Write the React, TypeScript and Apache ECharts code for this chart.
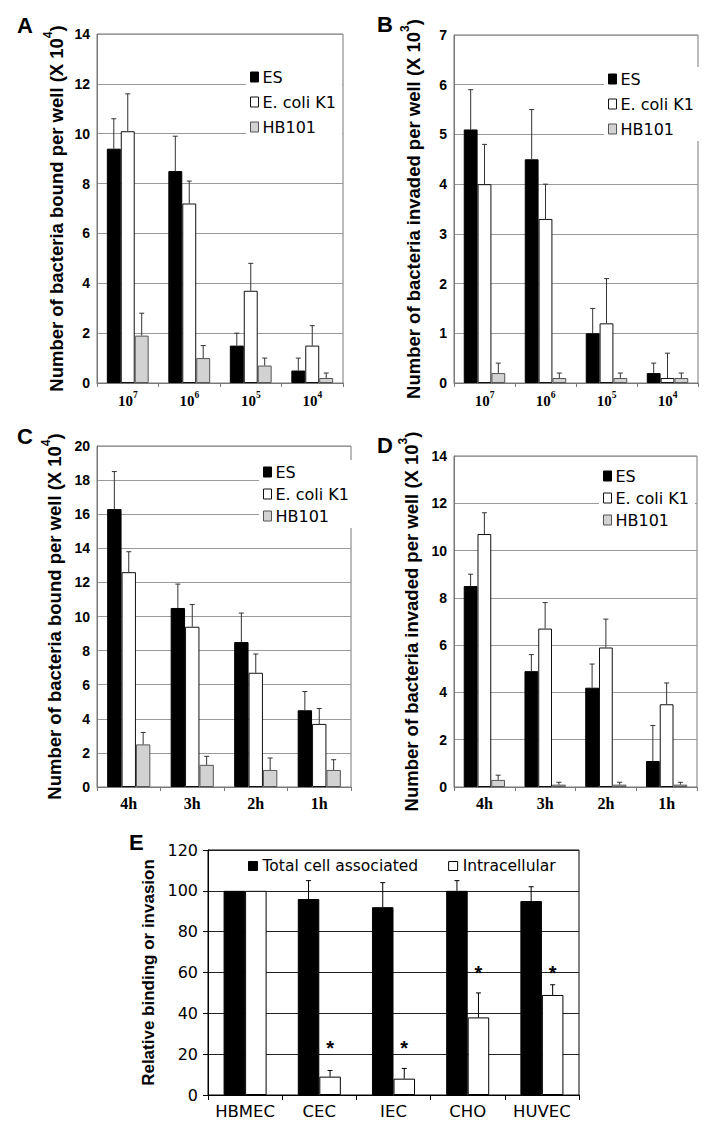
import React, { useEffect, useRef } from 'react';
import * as echarts from 'echarts';

// ---------- data ----------
const doseCategories = ['10^7', '10^6', '10^5', '10^4'];
const timeCategories = ['4h', '3h', '2h', '1h'];
const strainNames = ['ES', 'E. coli K1', 'HB101'];

// A: bound vs dose (x 10^4)
const boundDoseES = [9.4, 8.5, 1.5, 0.5];
const boundDoseESErr = [1.2, 1.4, 0.5, 0.5];
const boundDoseK1 = [10.1, 7.2, 3.7, 1.5];
const boundDoseK1Err = [1.5, 0.9, 1.1, 0.8];
const boundDoseHB = [1.9, 1.0, 0.7, 0.2];
const boundDoseHBErr = [0.9, 0.5, 0.3, 0.2];

// B: invaded vs dose (x 10^3)
const invadedDoseES = [5.1, 4.5, 1.0, 0.2];
const invadedDoseESErr = [0.8, 1.0, 0.5, 0.2];
const invadedDoseK1 = [4.0, 3.3, 1.2, 0.1];
const invadedDoseK1Err = [0.8, 0.7, 0.9, 0.5];
const invadedDoseHB = [0.2, 0.1, 0.1, 0.1];
const invadedDoseHBErr = [0.2, 0.1, 0.1, 0.1];

// C: bound vs time (x 10^4)
const boundTimeES = [16.3, 10.5, 8.5, 4.5];
const boundTimeESErr = [2.2, 1.4, 1.7, 1.1];
const boundTimeK1 = [12.6, 9.4, 6.7, 3.7];
const boundTimeK1Err = [1.2, 1.3, 1.1, 0.9];
const boundTimeHB = [2.5, 1.3, 1.0, 1.0];
const boundTimeHBErr = [0.7, 0.5, 0.7, 0.6];

// D: invaded vs time (x 10^3)
const invadedTimeES = [8.5, 4.9, 4.2, 1.1];
const invadedTimeESErr = [0.5, 0.7, 1.0, 1.5];
const invadedTimeK1 = [10.7, 6.7, 5.9, 3.5];
const invadedTimeK1Err = [0.9, 1.1, 1.2, 0.9];
const invadedTimeHB = [0.3, 0.1, 0.1, 0.1];
const invadedTimeHBErr = [0.2, 0.1, 0.1, 0.1];

// E: relative binding / invasion
const cellLines = ['HBMEC', 'CEC', 'IEC', 'CHO', 'HUVEC'];
const cellSeriesNames = ['Total cell associated', 'Intracellular'];
const totalAssociated = [100, 96, 92, 100, 95];
const totalAssociatedErr = [0, 9, 12, 5, 7];
const intracellular = [100, 9, 8, 38, 49];
const intracellularErr = [0, 3, 5, 12, 5];
const significanceLevels: (number | null)[] = [null, 23, 23, 60, 60];

// ---------- styles ----------
const SANS = "'Liberation Sans', Arial, Helvetica, sans-serif";
const SERIF = "'Liberation Serif', 'Times New Roman', serif";
const WIDE = "'DejaVu Sans', sans-serif";

const strainStyles = [
  { color: '#000000', borderColor: '#000000', borderWidth: 1 },
  { color: '#ffffff', borderColor: '#111111', borderWidth: 1 },
  { color: '#d2d2d2', borderColor: '#555555', borderWidth: 1 },
];
const cellStyles = [
  { color: '#000000', borderColor: '#000000', borderWidth: 1 },
  { color: '#ffffff', borderColor: '#000000', borderWidth: 1 },
];

function barCenter(api: any, cat: number, val: number, slot: number, count: number, gap: number) {
  const p = api.coord([cat, val]);
  const band = api.size([1, 0])[0];
  const groupW = band * (1 - gap);
  const bw = groupW / count;
  return [p[0] - groupW / 2 + bw * (slot + 0.5), p[1]];
}

function errRender(slot: number, count: number, gap: number, color: string, cap: number) {
  return (_params: any, api: any) => {
    const cat = api.value(0) as number;
    const v = api.value(1) as number;
    const e = api.value(2) as number;
    if (!e) return { type: 'group', children: [] };
    const b = barCenter(api, cat, v, slot, count, gap);
    const t = barCenter(api, cat, v + e, slot, count, gap);
    return {
      type: 'group',
      children: [
        { type: 'line', shape: { x1: b[0], y1: b[1], x2: t[0], y2: t[1] }, style: { stroke: color, lineWidth: 1 } },
        { type: 'line', shape: { x1: t[0] - cap, y1: t[1], x2: t[0] + cap, y2: t[1] }, style: { stroke: color, lineWidth: 1 } },
      ],
    };
  };
}

function groupSeries(g: number, names: string[], values: number[][], errs: number[][], styles: any[], gap: number, errColor: string) {
  const out: any[] = [];
  values.forEach((vals, i) => {
    out.push({
      type: 'bar',
      name: names[i],
      xAxisIndex: g,
      yAxisIndex: g,
      data: vals,
      barGap: '0%',
      barCategoryGap: `${gap * 100}%`,
      itemStyle: styles[i],
      silent: true,
    });
  });
  values.forEach((vals, i) => {
    out.push({
      type: 'custom',
      name: `${names[i]}-err`,
      xAxisIndex: g,
      yAxisIndex: g,
      renderItem: errRender(i, values.length, gap, errColor, 2.5),
      data: vals.map((v, k) => [k, v, errs[i][k]]),
      encode: { x: 0, y: 1 },
      z: 5,
      silent: true,
    });
  });
  return out;
}

const catLabelFormatter = (v: string) => {
  const parts = v.split('^');
  return parts.length > 1 ? `{b|${parts[0]}}{e|${parts[1]}}` : `{h|${parts[0]}}`;
};

function strainXAxis(g: number, cats: string[]) {
  return {
    gridIndex: g,
    type: 'category',
    data: cats,
    axisLine: { show: true, lineStyle: { color: '#777', width: 1 } },
    axisTick: { show: true, length: 4, lineStyle: { color: '#777' } },
    splitLine: { show: false },
    axisLabel: {
      interval: 0,
      margin: 7,
      formatter: catLabelFormatter,
      rich: {
        b: { fontFamily: SERIF, fontWeight: 'bold', fontSize: 15, color: '#000', lineHeight: 18, verticalAlign: 'bottom' },
        e: { fontFamily: SERIF, fontWeight: 'bold', fontSize: 9.5, color: '#000', lineHeight: 12, verticalAlign: 'top' },
        h: { fontFamily: SERIF, fontWeight: 'bold', fontSize: 16, color: '#000', lineHeight: 18 },
      },
    },
  };
}

function strainYAxis(g: number, max: number, interval: number, title: string, exp: string, gap: number) {
  return {
    gridIndex: g,
    type: 'value',
    min: 0,
    max,
    interval,
    axisLine: { show: true, lineStyle: { color: '#777', width: 1 } },
    axisTick: { show: false },
    splitLine: { show: true, lineStyle: { color: '#9a9a9a', width: 1 } },
    axisLabel: { fontFamily: SANS, fontWeight: 'bold', fontSize: 14, color: '#000', margin: 7 },
    name: `{t|${title} (X 10}{s|${exp}}{t|)}`,
    nameLocation: 'middle',
    nameGap: gap,
    nameTextStyle: {
      rich: {
        t: { fontFamily: SANS, fontWeight: 'bold', fontSize: 18.5, color: '#000', lineHeight: 24, verticalAlign: 'bottom' },
        s: { fontFamily: SANS, fontWeight: 'bold', fontSize: 12, color: '#000', lineHeight: 14, verticalAlign: 'top' },
      },
    },
  };
}

function strainLegend(left: number, top: number, gap: number) {
  return {
    orient: 'vertical',
    left,
    top,
    itemWidth: 8,
    itemHeight: 10,
    itemGap: gap,
    icon: 'rect',
    backgroundColor: '#ffffff',
    padding: [4, 6, 4, 4],
    selectedMode: false,
    textStyle: { fontFamily: WIDE, fontSize: 16, color: '#000', padding: [0, 0, 0, -1] },
    data: strainNames.map((n, i) => ({ name: n, itemStyle: strainStyles[i] })),
  };
}

const GAP_STRAIN = 0.32;
const GAP_CELL = 0.42;

export default function App() {
  const ref = useRef<HTMLDivElement>(null);

  useEffect(() => {
    if (!ref.current) return;
    const chart = echarts.init(ref.current, undefined, { renderer: 'svg' });

    const gridBase = { show: true, borderColor: '#777', borderWidth: 1, backgroundColor: '#fff', containLabel: false };

    const asteriskData = significanceLevels
      .map((lvl, k) => (lvl == null ? null : [k, lvl]))
      .filter((d) => d != null);

    const option: any = {
      animation: false,
      backgroundColor: '#ffffff',
      grid: [
        { ...gridBase, left: 97, top: 34, width: 246, height: 349 },
        { ...gridBase, left: 454, top: 35, width: 244, height: 348 },
        { ...gridBase, left: 97, top: 446, width: 254, height: 341 },
        { ...gridBase, left: 454, top: 456, width: 243, height: 331 },
        { ...gridBase, borderColor: '#000', left: 208, top: 850, width: 371, height: 245 },
      ],
      xAxis: [
        strainXAxis(0, doseCategories),
        strainXAxis(1, doseCategories),
        strainXAxis(2, timeCategories),
        strainXAxis(3, timeCategories),
        {
          gridIndex: 4,
          type: 'category',
          data: cellLines,
          axisLine: { show: true, lineStyle: { color: '#000', width: 1 } },
          axisTick: { show: true, length: 5, lineStyle: { color: '#000' } },
          axisLabel: { interval: 0, fontFamily: WIDE, fontSize: 16.5, color: '#000', margin: 8 },
        },
      ],
      yAxis: [
        strainYAxis(0, 14, 2, 'Number of bacteria bound per well', '4', 31),
        strainYAxis(1, 7, 1, 'Number of bacteria invaded per well', '3', 31),
        strainYAxis(2, 20, 2, 'Number of bacteria bound per well', '4', 33),
        strainYAxis(3, 14, 2, 'Number of bacteria invaded per well', '3', 33),
        {
          gridIndex: 4,
          type: 'value',
          min: 0,
          max: 120,
          interval: 20,
          axisLine: { show: true, lineStyle: { color: '#000', width: 1 } },
          axisTick: { show: true, length: 5, lineStyle: { color: '#000' } },
          splitLine: { show: true, lineStyle: { color: '#222', width: 1 } },
          axisLabel: { fontFamily: WIDE, fontSize: 16, color: '#000', margin: 10 },
          name: 'Relative binding or invasion',
          nameLocation: 'middle',
          nameGap: 46,
          nameTextStyle: { fontFamily: SANS, fontWeight: 'bold', fontSize: 17, color: '#000' },
        },
      ],
      legend: [
        strainLegend(246, 65, 9),
        strainLegend(604, 67, 9),
        strainLegend(259, 460, 6),
        strainLegend(599, 464, 6),
        {
          orient: 'horizontal',
          left: 248,
          top: 858,
          itemWidth: 9,
          itemHeight: 9,
          itemGap: 30,
          icon: 'rect',
          selectedMode: false,
          padding: 0,
          textStyle: { fontFamily: WIDE, fontSize: 15.5, color: '#000' },
          data: cellSeriesNames.map((n, i) => ({ name: n, itemStyle: cellStyles[i] })),
        },
      ],
      graphic: [
        { type: 'text', left: 17, top: 14, style: { text: 'A', font: `bold 22px ${SANS}`, fill: '#000' } },
        { type: 'text', left: 377, top: 13, style: { text: 'B', font: `bold 22px ${SANS}`, fill: '#000' } },
        { type: 'text', left: 17, top: 425, style: { text: 'C', font: `bold 22px ${SANS}`, fill: '#000' } },
        { type: 'text', left: 377, top: 434, style: { text: 'D', font: `bold 22px ${SANS}`, fill: '#000' } },
        { type: 'text', left: 129, top: 831, style: { text: 'E', font: `bold 22px ${SANS}`, fill: '#000' } },
      ],
      series: [
        ...groupSeries(0, strainNames, [boundDoseES, boundDoseK1, boundDoseHB], [boundDoseESErr, boundDoseK1Err, boundDoseHBErr], strainStyles, GAP_STRAIN, '#333'),
        ...groupSeries(1, strainNames, [invadedDoseES, invadedDoseK1, invadedDoseHB], [invadedDoseESErr, invadedDoseK1Err, invadedDoseHBErr], strainStyles, GAP_STRAIN, '#333'),
        ...groupSeries(2, strainNames, [boundTimeES, boundTimeK1, boundTimeHB], [boundTimeESErr, boundTimeK1Err, boundTimeHBErr], strainStyles, GAP_STRAIN, '#333'),
        ...groupSeries(3, strainNames, [invadedTimeES, invadedTimeK1, invadedTimeHB], [invadedTimeESErr, invadedTimeK1Err, invadedTimeHBErr], strainStyles, GAP_STRAIN, '#333'),
        ...groupSeries(4, cellSeriesNames, [totalAssociated, intracellular], [totalAssociatedErr, intracellularErr], cellStyles, GAP_CELL, '#000'),
        {
          type: 'custom',
          name: 'significance',
          xAxisIndex: 4,
          yAxisIndex: 4,
          data: asteriskData,
          encode: { x: 0, y: 1 },
          z: 6,
          silent: true,
          renderItem: (_p: any, api: any) => {
            const c = barCenter(api, api.value(0), api.value(1), 1, 2, GAP_CELL);
            return {
              type: 'text',
              x: c[0],
              y: c[1],
              style: { text: '*', font: `bold 20px ${SANS}`, fill: '#000', align: 'center', verticalAlign: 'middle' },
            };
          },
        },
      ],
    };

    chart.setOption(option);
    return () => chart.dispose();
  }, []);

  return (
    <div
      ref={ref}
      style={{ position: 'absolute', left: 0, top: 0, width: 712, height: 1124, background: '#fff' }}
    />
  );
}
